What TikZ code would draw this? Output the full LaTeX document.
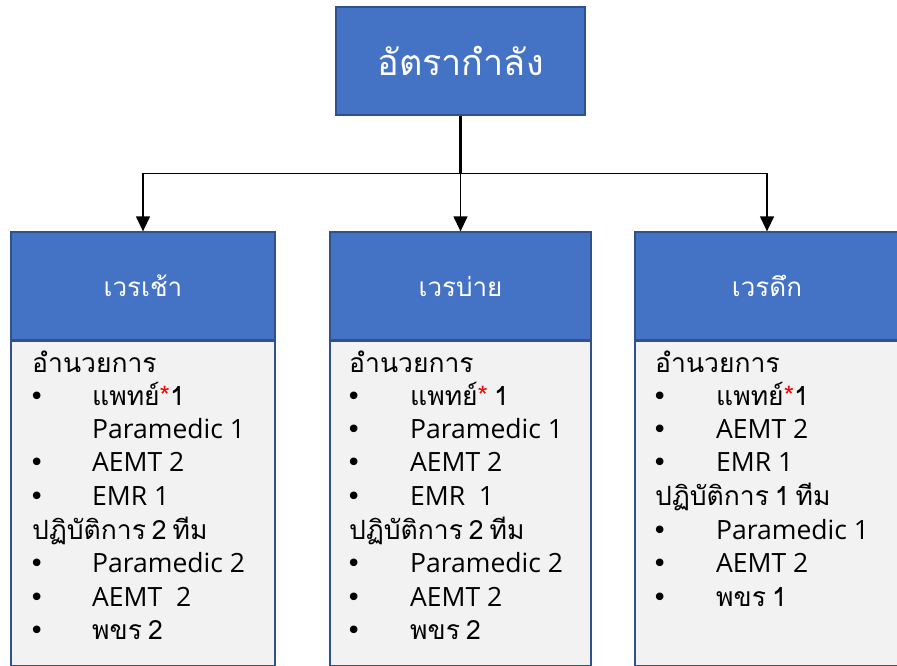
\documentclass[tikz,border=0pt]{standalone}
\usepackage{fontspec}
\setmainfont{Open Sans}
\newfontfamily\thai[Script=Thai]{Loma}
\newfontfamily\symf{DejaVu Sans}
\newcommand\tsp{\hspace{6pt}}
\usetikzlibrary{arrows.meta}
\definecolor{hdblue}{HTML}{4472C4}
\definecolor{edgeblue}{HTML}{2F528F}
\definecolor{bodygray}{HTML}{F2F2F2}
\begin{document}
\begin{tikzpicture}[x=1pt,y=-1pt,
  hdbox/.style={draw=edgeblue,line width=1.3pt,fill=hdblue,text=white,inner sep=0pt},
  bodybox/.style={draw=edgeblue,line width=1.3pt,fill=bodygray,inner sep=0pt},
  txt/.style={anchor=base west,inner sep=0pt,font=\fontsize{26.5}{30}\selectfont},
  bul/.style={anchor=base west,inner sep=0pt,font=\symf\fontsize{26}{28}\selectfont},
  conn/.style={line width=1.3pt,-{Triangle[length=15pt,width=14pt]}}
]
\clip (0,0) rectangle (897,665);
\fill[white] (0,0) rectangle (897,665);

% top box
\node[hdbox,minimum width=249pt,minimum height=108pt,font=\thai\fontsize{36}{40}\selectfont] (top) at (460.5,61) {อัตรากำลัง};

% header boxes
\node[hdbox,minimum width=264pt,minimum height=108pt,font=\thai\fontsize{26}{30}\selectfont] (hA) at (143,286) {เวรเช้า};
\node[hdbox,minimum width=261pt,minimum height=108pt,font=\thai\fontsize{26}{30}\selectfont] (hB) at (460.5,286) {เวรบ่าย};
\node[hdbox,minimum width=264pt,minimum height=108pt,font=\thai\fontsize{26}{30}\selectfont] (hC) at (767,286) {เวรดึก};

% body boxes
\node[bodybox,anchor=north,minimum width=264pt,minimum height=324pt] (bA) at (hA.south) {};
\node[bodybox,anchor=north,minimum width=261pt,minimum height=324pt] (bB) at (hB.south) {};
\node[bodybox,anchor=north,minimum width=264pt,minimum height=324pt] (bC) at (hC.south) {};
\draw[edgeblue,line width=1.3pt] (hA.south west) -- (hA.south east);
\draw[edgeblue,line width=1.3pt] (hB.south west) -- (hB.south east);
\draw[edgeblue,line width=1.3pt] (hC.south west) -- (hC.south east);

% connectors
\draw[line width=2.6pt] (top.south) -- ++(0,58) coordinate (j);
\draw[conn] (j) -| (hA.north);
\draw[conn] (j) -| (hC.north);
\draw[conn] (j) -- (j |- hB.north);

% left box text
\node[txt] (a1) at (32,372) {\thai อำนวยการ};
\node[bul] (ab2) at (29,405) {•};
\node[txt] (a2) at (92,405) {\thai แพทย์\textcolor{red}{*}1};
\node[txt] (a3) at (92,438) {Paramedic 1};
\node[bul] (ab4) at (29,471) {•};
\node[txt] (a4) at (92,471) {AEMT 2};
\node[bul] (ab5) at (29,505) {•};
\node[txt] (a5) at (92,505) {EMR 1};
\node[txt] (a6) at (32,539) {\thai ปฏิบัติการ\tsp 2\tsp ทีม};
\node[bul] (ab7) at (29,572) {•};
\node[txt] (a7) at (92,572) {Paramedic 2};
\node[bul] (ab8) at (29,606) {•};
\node[txt] (a8) at (92,606) {AEMT\ \ 2};
\node[bul] (ab9) at (29,639) {•};
\node[txt] (a9) at (92,639) {\thai พขร\tsp 2};

% middle box text
\node[txt] (b1) at (349,372) {\thai อำนวยการ};
\node[bul] (bb2) at (346,405) {•};
\node[txt] (b2) at (410,405) {\thai แพทย์\textcolor{red}{*}\tsp 1};
\node[bul] (bb3) at (346,438) {•};
\node[txt] (b3) at (410,438) {Paramedic 1};
\node[bul] (bb4) at (346,471) {•};
\node[txt] (b4) at (410,471) {AEMT 2};
\node[bul] (bb5) at (346,505) {•};
\node[txt] (b5) at (410,505) {EMR\ \ 1};
\node[txt] (b6) at (349,539) {\thai ปฏิบัติการ\tsp 2\tsp ทีม};
\node[bul] (bb7) at (346,572) {•};
\node[txt] (b7) at (410,572) {Paramedic 2};
\node[bul] (bb8) at (346,606) {•};
\node[txt] (b8) at (410,606) {AEMT 2};
\node[bul] (bb9) at (346,639) {•};
\node[txt] (b9) at (410,639) {\thai พขร\tsp 2};

% right box text
\node[txt] (c1) at (655,372) {\thai อำนวยการ};
\node[bul] (cb2) at (652,405) {•};
\node[txt] (c2) at (716,405) {\thai แพทย์\textcolor{red}{*}1};
\node[bul] (cb3) at (652,438) {•};
\node[txt] (c3) at (716,438) {AEMT 2};
\node[bul] (cb4) at (652,471) {•};
\node[txt] (c4) at (716,471) {EMR 1};
\node[txt] (c5) at (655,505) {\thai ปฏิบัติการ\tsp 1\tsp ทีม};
\node[bul] (cb6) at (652,539) {•};
\node[txt] (c6) at (716,539) {Paramedic 1};
\node[bul] (cb7) at (652,572) {•};
\node[txt] (c7) at (716,572) {AEMT 2};
\node[bul] (cb8) at (652,606) {•};
\node[txt] (c8) at (716,606) {\thai พขร\tsp 1};
\end{tikzpicture}
\end{document}
